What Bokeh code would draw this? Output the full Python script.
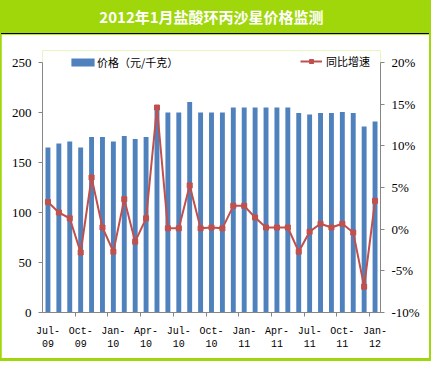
from bokeh.plotting import figure
from bokeh.layouts import column
from bokeh.models import (Range1d, LinearAxis, FixedTicker, PrintfTickFormatter,
                          Legend, LegendItem, ColumnDataSource, Div)
from bokeh.embed import file_html
from bokeh.resources import INLINE

# ---------------- data ----------------
title_text = "2012年1月盐酸环丙沙星价格监测"
price_label = "价格（元/千克）"
growth_label = "同比增速"

months = ["2009-07", "2009-08", "2009-09", "2009-10", "2009-11", "2009-12",
          "2010-01", "2010-02", "2010-03", "2010-04", "2010-05", "2010-06",
          "2010-07", "2010-08", "2010-09", "2010-10", "2010-11", "2010-12",
          "2011-01", "2011-02", "2011-03", "2011-04", "2011-05", "2011-06",
          "2011-07", "2011-08", "2011-09", "2011-10", "2011-11", "2011-12",
          "2012-01"]
price = [165, 169, 171, 165, 175.5, 175.5, 171, 176.5, 173.5, 175.5, 203,
         200, 200, 210.5, 200, 200, 200, 205, 205, 205, 205, 205, 205,
         199.5, 198, 199.5, 199.5, 200.5, 199.5, 186, 191]
growth = [3.25, 2.0, 1.3, -2.8, 6.2, 0.2, -2.7, 3.6, -1.5, 1.3, 14.6,
          0.1, 0.1, 5.25, 0.1, 0.2, 0.1, 2.8, 2.8, 1.4, 0.2, 0.2, 0.2,
          -2.7, -0.3, 0.65, 0.2, 0.65, -0.4, -6.9, 3.4]
x_tick_pos = [0, 3, 6, 9, 12, 15, 18, 21, 24, 27, 30]
x_tick_labels = ["Jul-\n09", "Oct-\n09", "Jan-\n10", "Apr-\n10", "Jul-\n10",
                 "Oct-\n10", "Jan-\n11", "Apr-\n11", "Jul-\n11", "Oct-\n11",
                 "Jan-\n12"]
x_tick_marks = [2.5, 5.5, 8.5, 11.5, 14.5, 17.5, 20.5, 23.5, 26.5, 29.5]
price_ticks = [0, 50, 100, 150, 200, 250]
growth_ticks = [-10, -5, 0, 5, 10, 15, 20]

# ---------------- style ----------------
GREEN = "#9FD70A"
BLUE = "#4F81BD"
RED = "#C0504D"
AXIS = "#868686"

W, H = 431, 361          # whole card
BL, BR, BB = 1, 2, 3     # green border widths
TITLE_H = 34             # green bar + black line
FIG_W = W - BL - BR
FIG_H = H - TITLE_H - BB
Y_TOP = 262              # headroom so the legend is not clipped
ML, MR, MT, MB = 41, 49, 28 - (Y_TOP - 250), 46
PCT_LO, PCT_HI = -10, 20
pct_top = PCT_LO + (PCT_HI - PCT_LO) * Y_TOP / 250.0

xs = list(range(len(months)))
src = ColumnDataSource(dict(x=xs, price=price, growth=growth))

p = figure(width=FIG_W, height=FIG_H, output_backend="svg", toolbar_location=None,
           x_range=Range1d(-0.5, len(months) - 0.5), y_range=Range1d(0, Y_TOP),
           min_border_left=ML, min_border_right=MR, min_border_top=MT,
           min_border_bottom=MB, border_fill_color="white",
           background_fill_color="white", outline_line_color=None, margin=0)
p.extra_y_ranges = {"pct": Range1d(PCT_LO, pct_top)}
p.grid.visible = False

bars = p.vbar(x="x", top="price", width=0.45, source=src,
              fill_color=BLUE, line_color=None)
line = p.line(x="x", y="growth", source=src, y_range_name="pct",
              line_color=RED, line_width=2)
pts = p.scatter(x="x", y="growth", source=src, y_range_name="pct",
                marker="square", size=5, fill_color=RED, line_color=RED)

# axes
xa = p.xaxis[0]
xa.ticker = FixedTicker(ticks=x_tick_pos, minor_ticks=x_tick_marks)
xa.major_label_overrides = {t: l for t, l in zip(x_tick_pos, x_tick_labels)}
xa.major_tick_out = 0
xa.major_tick_in = 0
xa.minor_tick_out = 4
xa.minor_tick_in = 0
xa.minor_tick_line_color = AXIS
xa.axis_line_color = AXIS
xa.major_label_standoff = 9
xa.major_label_text_font = "Liberation Mono"
xa.major_label_text_font_size = "10px"
xa.major_label_text_color = "black"

ya = p.yaxis[0]
ya.ticker = FixedTicker(ticks=price_ticks)
ya.bounds = (0, 250)
ya.major_tick_out = 4
ya.major_tick_in = 0
ya.minor_tick_out = 0
ya.major_tick_line_color = AXIS
ya.axis_line_color = AXIS
ya.major_label_standoff = 7
ya.major_label_text_font = "Liberation Serif"
ya.major_label_text_font_size = "13px"
ya.major_label_text_color = "black"

ra = LinearAxis(y_range_name="pct", ticker=FixedTicker(ticks=growth_ticks),
                formatter=PrintfTickFormatter(format="%d%%"),
                bounds=(PCT_LO, PCT_HI))
ra.major_tick_out = 4
ra.major_tick_in = 0
ra.minor_tick_out = 0
ra.major_tick_line_color = AXIS
ra.axis_line_color = AXIS
ra.major_label_standoff = 7
ra.major_label_text_font = "Liberation Serif"
ra.major_label_text_font_size = "13px"
ra.major_label_text_color = "black"
p.add_layout(ra, "right")

# legends
common = dict(padding=0, margin=0, spacing=0, border_line_color=None,
              background_fill_alpha=0, label_text_font="Noto Sans CJK SC",
              label_text_font_size="11px", label_text_color="black",
              label_height=10)
leg1 = Legend(items=[LegendItem(label=price_label, renderers=[bars])],
              location=(26, 242), glyph_width=29, glyph_height=10,
              label_standoff=0, **common)
leg2 = Legend(items=[LegendItem(label=growth_label, renderers=[line, pts])],
              location=(258, 243), glyph_width=22, glyph_height=10,
              label_standoff=4, **common)
p.add_layout(leg1, "center")
p.add_layout(leg2, "center")

title = Div(text=title_text, width=FIG_W, height=TITLE_H, margin=0,
            styles={"background-color": GREEN, "color": "white",
                    "font-family": "'Noto Sans CJK SC'", "font-size": "15px",
                    "font-weight": "bold", "text-align": "center",
                    "line-height": "33px", "box-sizing": "border-box",
                    "border-bottom": "1px solid black",
                    "padding-right": "7px"})

layout = column(title, p, spacing=0, margin=0,
                styles={"background-color": GREEN,
                        "padding": "0px %dpx %dpx %dpx" % (BR, BB, BL)})

open("out.html", "w").write(file_html(layout, INLINE))
